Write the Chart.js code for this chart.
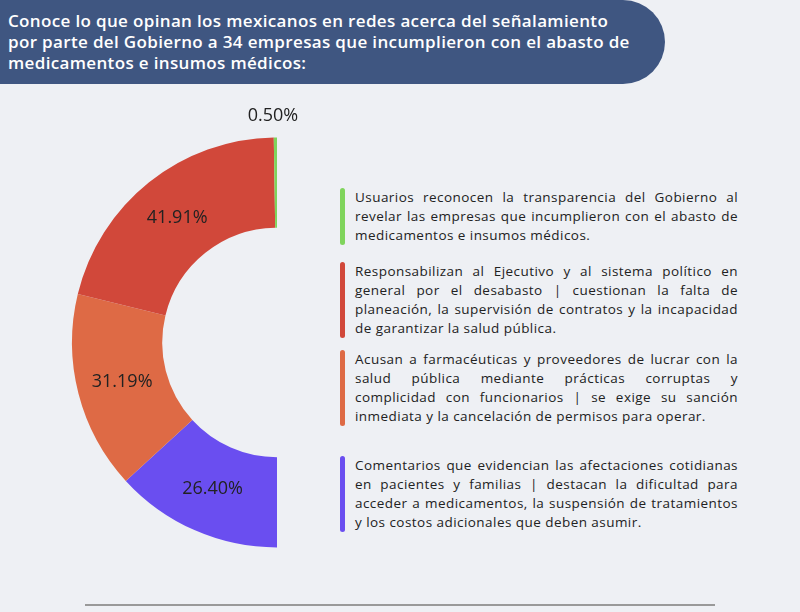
<!DOCTYPE html>
<html><head><meta charset="utf-8">
<script src="https://cdn.jsdelivr.net/npm/chart.js@4/dist/chart.umd.min.js"></script>
<style>
body{margin:0;width:800px;height:612px;background:#eef0f4;font-family:"Open Sans",sans-serif;overflow:hidden;position:relative}
#hdr{position:absolute;left:0;top:0;width:665px;height:84px;background:#3f5681;border-bottom-right-radius:45px;border-top-right-radius:45px;color:#fff;font-weight:600;font-size:17px;letter-spacing:0.35px;line-height:21px;padding:10px 0 0 8px;box-sizing:border-box}
#wrap{position:absolute;left:52px;top:97px;width:265px;height:471px}
.leg{position:absolute;left:340px;width:398px;font-size:13.5px;letter-spacing:0.45px;line-height:19px;color:#222;text-align:justify;padding-left:15px;box-sizing:border-box}
.leg::before{content:"";position:absolute;left:0;top:0;bottom:0;width:5px;border-radius:3px;background:var(--c)}
#line{position:absolute;left:85px;top:604px;width:630px;height:2px;background:#999}
</style></head><body>
<div id="hdr">Conoce lo que opinan los mexicanos en redes acerca del señalamiento<br>por parte del Gobierno a 34 empresas que incumplieron con el abasto de<br>medicamentos e insumos médicos:</div>
<div id="wrap"><canvas id="c"></canvas></div>
<div id="legs"></div>
<div id="line"></div>
<script>
const categories=["Comentarios que evidencian las afectaciones cotidianas en pacientes y familias | destacan la dificultad para acceder a medicamentos, la suspensión de tratamientos y los costos adicionales que deben asumir.",
"Acusan a farmacéuticas y proveedores de lucrar con la salud pública mediante prácticas corruptas y complicidad con funcionarios | se exige su sanción inmediata y la cancelación de permisos para operar.",
"Responsabilizan al Ejecutivo y al sistema político en general por el desabasto | cuestionan la falta de planeación, la supervisión de contratos y la incapacidad de garantizar la salud pública.",
"Usuarios reconocen la transparencia del Gobierno al revelar las empresas que incumplieron con el abasto de medicamentos e insumos médicos."];
const values=[26.40,31.19,41.91,0.50];
const colors=["#6a4ef0","#de6a45","#d1483a","#7fd45c"];
const legTops=[456,350,262,188];
const legs=document.getElementById('legs');
categories.forEach((t,i)=>{const d=document.createElement('div');d.className='leg';d.style.top=legTops[i]+'px';d.style.setProperty('--c',colors[i]);d.textContent=t;legs.appendChild(d);});
const labelPlugin={id:'lbl',afterDatasetsDraw(ch){const ctx=ch.ctx;const meta=ch.getDatasetMeta(0);ctx.save();ctx.font='18px "Open Sans"';ctx.fillStyle='#222';ctx.textAlign='center';ctx.textBaseline='middle';
meta.data.forEach((a,i)=>{const txt=values[i].toFixed(2)+'%';if(values[i]<2){ctx.fillText(txt,a.x-4,a.y-a.outerRadius-22);}else{const p=a.tooltipPosition();ctx.fillText(txt,p.x,p.y);}});ctx.restore();}};
new Chart(document.getElementById('c'),{type:'doughnut',data:{labels:categories,datasets:[{data:values,backgroundColor:colors,borderWidth:0}]},
options:{responsive:true,maintainAspectRatio:false,animation:false,rotation:180,circumference:180,cutout:'56%',layout:{padding:{left:20,top:40,right:40,bottom:20}},plugins:{legend:{display:false},tooltip:{enabled:false}}},plugins:[labelPlugin]});
</script></body></html>
